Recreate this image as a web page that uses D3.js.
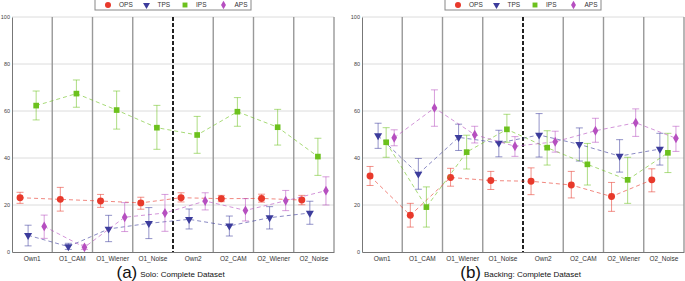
<!DOCTYPE html>
<html><head><meta charset="utf-8">
<script src="https://cdn.jsdelivr.net/npm/d3@7"></script>
<style>body{margin:0;background:#fff}svg{display:block}text{font-family:"Liberation Sans",Arial,sans-serif}</style>
</head><body><svg id="c" width="685" height="281"></svg>
<script>
const categories = ["Own1","O1_CAM","O1_Wiener","O1_Noise","Own2","O2_CAM","O2_Wiener","O2_Noise"];
const seriesNames = ["OPS","TPS","IPS","APS"];
const yTicks = [0,20,40,60,80,100];
// [mean, low, high]
const soloOPS = [[23.1,20.7,25.4],[22.4,17.4,27.5],[21.7,19,24.5],[20.9,18.2,23.3],[23.1,21.3,25.2],[22.7,21.4,24.1],[22.8,21.2,24.6],[22.1,20.1,24.1]];
const soloTPS = [[7.1,2.6,11.4],[2.3,1.1,3.7],[9.8,4.4,15.6],[12.2,5.7,18.9],[13.9,9.8,18.3],[11.1,6.8,15.3],[14.6,9.8,19.3],[16.6,11.8,21.6]];
const soloIPS = [[62.3,56.2,68.5],[67.4,61.6,73.2],[60.4,52.3,68.5],[52.9,43.7,62.4],[49.8,42,57.7],[59.7,53.5,65.7],[53.1,45.5,60.7],[40.6,32.6,48.4]];
const soloAPS = [[10.9,5.8,15.7],[2,1.1,3],[14.8,8.7,21],[16.6,8.8,24.5],[21.7,17.9,25.2],[17.7,13.2,22.7],[21.8,17.6,26.2],[26.1,20,32]];
const backOPS = [[32.3,28.3,36.4],[15.6,10.6,20.7],[31.7,28,35.6],[30.4,26.6,34.3],[30.1,24.4,35.8],[28.5,23,34.3],[23.6,17.3,29.6],[30.7,25.6,35.4]];
const backTPS = [[49.5,44.1,54.8],[33.2,26.7,39.8],[48.8,43.2,54.4],[46.4,40.5,51.8],[49.8,40.4,58.9],[45.8,38.7,52.8],[40.8,34,47.8],[43.8,37,50.5]];
const backIPS = [[46.7,40.3,52.9],[19.1,10.6,27.7],[42.5,35.3,49.7],[52.2,46.7,58.6],[44.4,37,51.6],[37.3,28.5,46.2],[30.7,20.7,40.3],[42.2,33.8,50.5]];
const backAPS = [[48.6,45.2,52],[61.3,53.5,69],[49.9,46.4,53.5],[45,40.7,49.1],[46.9,42.5,51.4],[51.6,46.7,56.9],[55,49.2,60.9],[48.4,42.8,53.5]];

const colors = {OPS:"#e8392b", TPS:"#3c3c9c", IPS:"#6cc11d", APS:"#b64fc0"};
const symbols = {OPS:d3.symbolCircle, TPS:d3.symbolTriangle, IPS:d3.symbolSquare, APS:d3.symbolDiamond};
const symSize = {OPS:38, TPS:28, IPS:32, APS:28};

const svg = d3.select("#c");

function panel(x0, x1, data, letter, caption) {
  const g = svg.append("g");
  const x = d3.scaleBand().domain(categories).range([x0, x1]).padding(0);
  const sx = d3.scalePoint().domain(seriesNames).range([0, x.bandwidth()]).padding(1);
  const y = d3.scaleLinear().domain([0,100]).range([252, 17]);

  // grid
  g.selectAll(".grid").data(yTicks.filter(t=>t>0)).enter().append("line")
    .attr("x1", x0).attr("x2", x1).attr("y1", d=>y(d)).attr("y2", d=>y(d))
    .attr("stroke", "#dcdcdc").attr("stroke-width", 1);
  // separators
  categories.slice(1).forEach((c,i) => {
    const xx = x(c);
    if (c === "Own2") {
      g.append("line").attr("x1", xx).attr("x2", xx).attr("y1", y(100)).attr("y2", y(0))
        .attr("stroke", "#222").attr("stroke-width", 2).attr("stroke-dasharray", "4,2");
    } else {
      g.append("line").attr("x1", xx).attr("x2", xx).attr("y1", y(100)).attr("y2", y(0))
        .attr("stroke", "#999").attr("stroke-width", 1.4);
    }
  });
  // right border
  g.append("line").attr("x1", x1).attr("x2", x1).attr("y1", y(100)).attr("y2", y(0)).attr("stroke", "#999").attr("stroke-width", 1.4);
  // axes
  const ya = d3.axisLeft(y).tickValues(yTicks).tickSize(0).tickPadding(2);
  const ay = g.append("g").attr("transform", `translate(${x0},0)`).call(ya);
  ay.select(".domain").attr("stroke", "#777");
  ay.selectAll("text").attr("font-size", 5.5).attr("fill", "#444");
  const xa = d3.axisBottom(x).tickSize(0).tickPadding(4);
  const ax = g.append("g").attr("transform", `translate(0,${y(0)})`).call(xa);
  ax.select(".domain").attr("stroke", "#777");
  ax.selectAll("text").attr("font-size", 6.5).attr("fill", "#333");

  seriesNames.forEach(s => {
    const vals = data[s];
    const col = colors[s];
    const px = (i) => x(categories[i]) + sx(s);
    const line = d3.line().x((d,i)=>px(i)).y(d=>y(d[0]));
    g.append("path").datum(vals).attr("d", line).attr("fill","none")
      .attr("stroke", col).attr("stroke-opacity", 0.6).attr("stroke-width", 1).attr("stroke-dasharray", "4,3");
    const eb = g.append("g").attr("stroke", col).attr("stroke-opacity", 0.55).attr("stroke-width", 1);
    vals.forEach((d,i) => {
      const cx = px(i);
      eb.append("line").attr("x1", cx).attr("x2", cx).attr("y1", y(d[1])).attr("y2", y(d[2]));
      eb.append("line").attr("x1", cx-3.5).attr("x2", cx+3.5).attr("y1", y(d[1])).attr("y2", y(d[1]));
      eb.append("line").attr("x1", cx-3.5).attr("x2", cx+3.5).attr("y1", y(d[2])).attr("y2", y(d[2]));
    });
    const sym = d3.symbol().type(symbols[s]).size(symSize[s]);
    vals.forEach((d,i) => {
      g.append("path").attr("d", sym())
        .attr("transform", `translate(${px(i)},${y(d[0])})${s==="TPS"?" rotate(180)":""}`)
        .attr("fill", col);
    });
  });

  // legend
  const lx = x0 + (x1 - x0)/2 - 78;
  const lg = g.append("g");
  lg.append("rect").attr("x", lx).attr("y", -0.5).attr("width", 156).attr("height", 10.5)
    .attr("fill", "#fff").attr("stroke", "#888").attr("stroke-width", 1);
  seriesNames.forEach((s,i) => {
    const mx = lx + 13 + i*38.5;
    lg.append("path").attr("d", d3.symbol().type(symbols[s]).size(symSize[s]*0.75)())
      .attr("transform", `translate(${mx},5)${s==="TPS"?" rotate(180)":""}`).attr("fill", colors[s]);
    lg.append("text").attr("x", mx+11).attr("y", 7.3).attr("font-size", 6.5).attr("fill", "#333").text(s);
  });

  // caption
  const cap = g.append("text").attr("y", 278).attr("fill", "#111");
  cap.append("tspan").attr("font-size", 17).text(letter);
  cap.append("tspan").attr("font-size", 8).attr("dx", 3).attr("dy", -1).text(caption);
  const w = cap.node().getBBox().width;
  cap.attr("x", (x0 + x1)/2 - w/2 - 2);
}

panel(12, 334, {OPS:soloOPS, TPS:soloTPS, IPS:soloIPS, APS:soloAPS}, "(a)", "Solo: Complete Dataset");
panel(362, 684, {OPS:backOPS, TPS:backTPS, IPS:backIPS, APS:backAPS}, "(b)", "Backing: Complete Dataset");
</script></body></html>
